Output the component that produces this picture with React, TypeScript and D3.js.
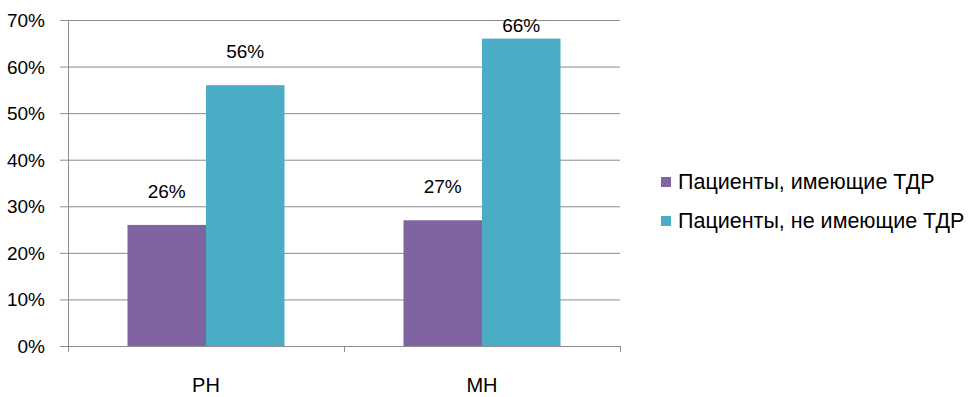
import React, { useEffect, useRef } from "react";
import * as d3 from "d3";

const categories = ["РН", "МН"];
const seriesNames = ["Пациенты, имеющие ТДР", "Пациенты, не имеющие ТДР"];
const withTdr = [26, 27];
const withoutTdr = [56, 66];
const yTicks = [0, 10, 20, 30, 40, 50, 60, 70];
const colors = ["#8064A2", "#4BACC6"];

const App = () => {
  const svgRef = useRef<SVGSVGElement>(null);

  useEffect(() => {
    const svg = d3.select(svgRef.current);
    svg.selectAll("*").remove();
    const font = "'Liberation Sans', Arial, sans-serif";
    const left = 68;
    const right = 620;
    const top = 20;
    const bottom = 346;

    const y = d3.scaleLinear().domain([0, 70]).range([bottom, top]);
    const x0 = d3.scaleBand().domain(categories).range([left, right]);
    const x1 = d3
      .scaleBand()
      .domain(seriesNames)
      .range([0, x0.bandwidth()])
      .paddingInner(0)
      .paddingOuter(0.758);

    // gridlines
    svg
      .append("g")
      .selectAll("line")
      .data(yTicks.slice(1))
      .join("line")
      .attr("x1", left)
      .attr("x2", right)
      .attr("y1", (d) => y(d) + 0.5)
      .attr("y2", (d) => y(d) + 0.5)
      .attr("stroke", "#8c8c8c")
      .attr("stroke-width", 1);

    // y ticks and labels
    const yg = svg.append("g");
    yg.selectAll("line")
      .data(yTicks)
      .join("line")
      .attr("x1", left - 8)
      .attr("x2", left)
      .attr("y1", (d) => y(d) + 0.5)
      .attr("y2", (d) => y(d) + 0.5)
      .attr("stroke", "#8c8c8c");
    yg.selectAll("text")
      .data(yTicks)
      .join("text")
      .attr("x", 45)
      .attr("y", (d) => y(d) + 7)
      .attr("text-anchor", "end")
      .attr("font-family", font)
      .attr("font-size", 19)
      .attr("fill", "#000")
      .text((d) => `${d}%`);

    // bars
    const series = [withTdr, withoutTdr];
    series.forEach((vals, si) => {
      svg
        .append("g")
        .selectAll("rect")
        .data(vals)
        .join("rect")
        .attr("x", (_, i) => (x0(categories[i]) ?? 0) + (x1(seriesNames[si]) ?? 0))
        .attr("y", (d) => y(d))
        .attr("width", x1.bandwidth())
        .attr("height", (d) => bottom - y(d))
        .attr("fill", colors[si]);

      svg
        .append("g")
        .selectAll("text")
        .data(vals)
        .join("text")
        .attr(
          "x",
          (_, i) =>
            (x0(categories[i]) ?? 0) + (x1(seriesNames[si]) ?? 0) + x1.bandwidth() / 2
        )
        .attr("y", (d) => Math.max(y(d) - 27, top + 12))
        .attr("text-anchor", "middle")
        .attr("font-family", font)
        .attr("font-size", 19)
        .attr("fill", "#000")
        .text((d) => `${d}%`);
    });

    // axes lines
    svg
      .append("line")
      .attr("x1", left + 0.5)
      .attr("x2", left + 0.5)
      .attr("y1", top)
      .attr("y2", bottom + 6)
      .attr("stroke", "#8c8c8c");
    svg
      .append("line")
      .attr("x1", left)
      .attr("x2", right)
      .attr("y1", bottom + 0.5)
      .attr("y2", bottom + 0.5)
      .attr("stroke", "#8c8c8c");
    const bounds = [left, ...categories.map((c) => (x0(c) ?? 0) + x0.bandwidth())];
    svg
      .append("g")
      .selectAll("line")
      .data(bounds)
      .join("line")
      .attr("x1", (d) => d + 0.5)
      .attr("x2", (d) => d + 0.5)
      .attr("y1", bottom)
      .attr("y2", bottom + 6)
      .attr("stroke", "#8c8c8c");

    svg
      .append("g")
      .selectAll("text")
      .data(categories)
      .join("text")
      .attr("x", (d) => (x0(d) ?? 0) + x0.bandwidth() / 2)
      .attr("y", 392)
      .attr("text-anchor", "middle")
      .attr("font-family", font)
      .attr("font-size", 20)
      .attr("fill", "#000")
      .text((d) => d);

    // legend
    const lg = svg
      .append("g")
      .selectAll("g")
      .data(seriesNames)
      .join("g")
      .attr("transform", (_, i) => `translate(661, ${177 + i * 39})`);
    lg.append("rect")
      .attr("width", 10)
      .attr("height", 10)
      .attr("fill", (_, i) => colors[i]);
    lg.append("text")
      .attr("x", 17)
      .attr("y", 12)
      .attr("font-family", font)
      .attr("font-size", 21.5)
      .attr("fill", "#000")
      .text((d) => d);
  }, []);

  return (
    <svg
      ref={svgRef}
      width={975}
      height={397}
      style={{ position: "absolute", left: 0, top: 0, background: "#fff" }}
    />
  );
};

export default App;
